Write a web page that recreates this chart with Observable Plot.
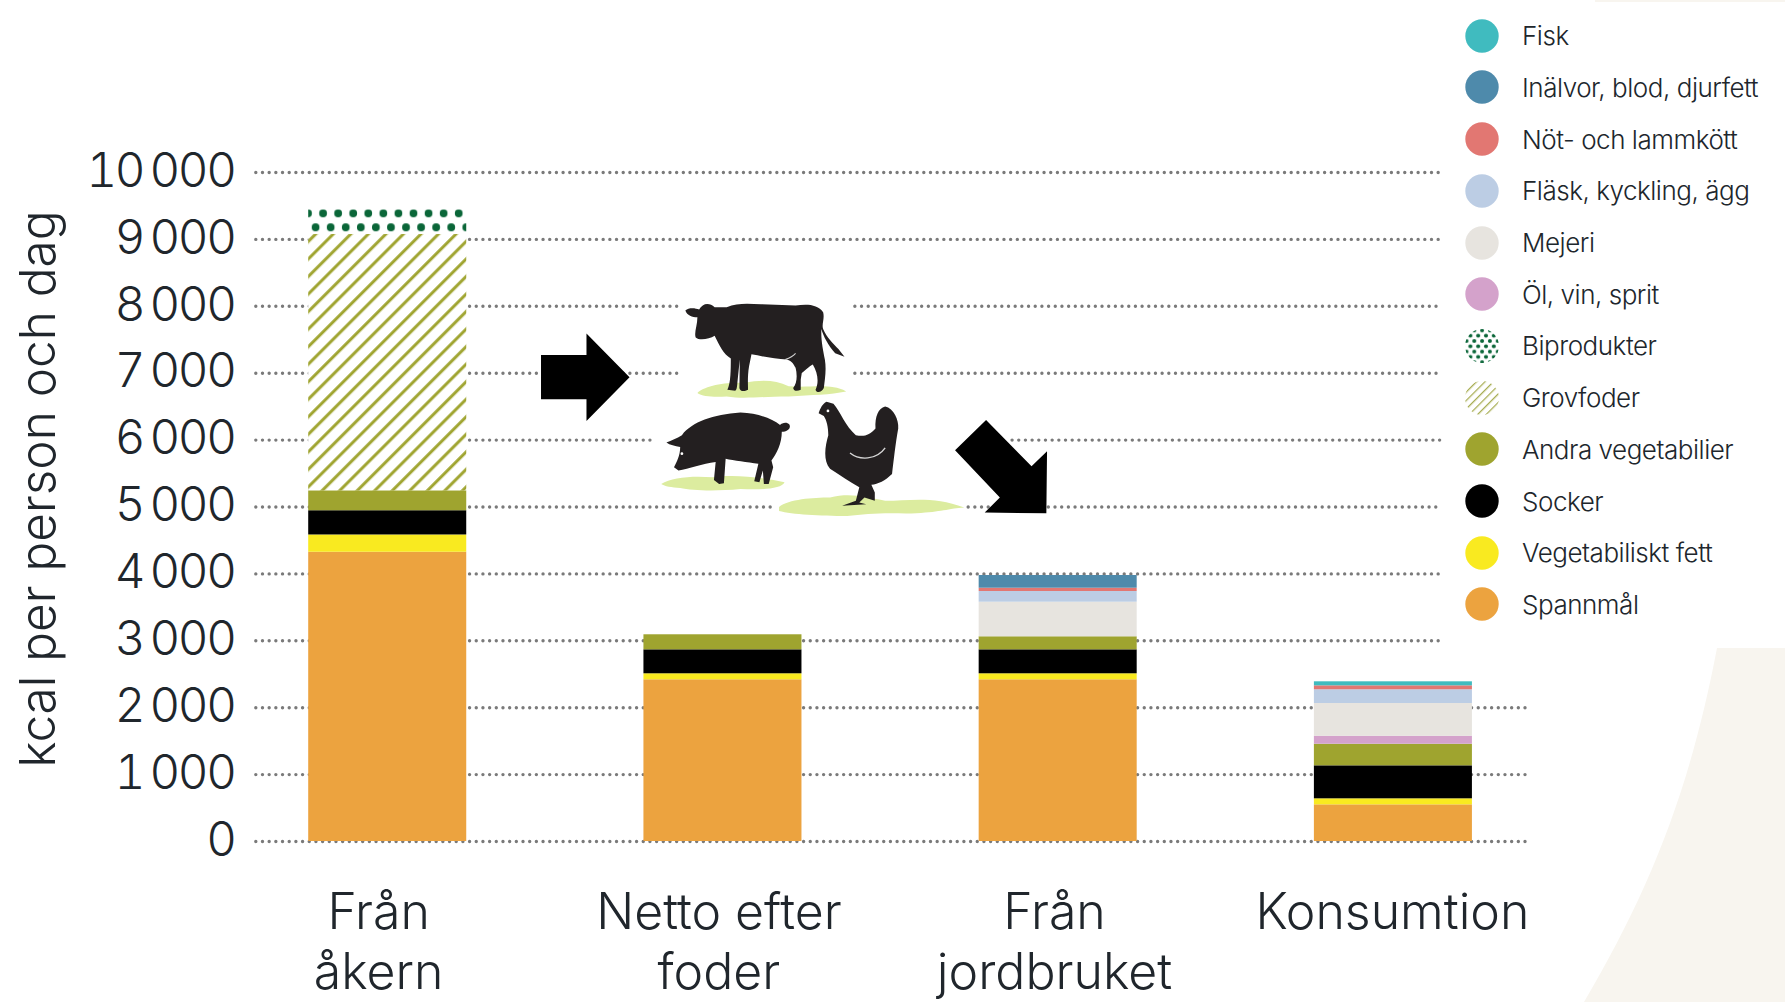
<!DOCTYPE html>
<html lang="sv">
<head>
<meta charset="utf-8">
<style>
  html,body{margin:0;padding:0;background:#fff;}
  #wrap{position:relative;width:1785px;height:1002px;overflow:hidden;font-family:Inter,"Noto Sans",sans-serif;font-weight:300;color:#20262c;}
  #chart svg{display:block;}
  #chart g[aria-label="y-axis tick label"] text{letter-spacing:-.05em;}
  #legend{position:absolute;left:0;top:0;}
  .row{position:absolute;left:1465px;height:34px;display:flex;align-items:center;font-size:26px;letter-spacing:-.018em;white-space:nowrap;}
  .row svg{width:34px;height:34px;margin-right:23px;flex:none;}
</style>
<script src="https://cdn.jsdelivr.net/npm/d3@7"></script>
<script src="https://cdn.jsdelivr.net/npm/@observablehq/plot@0.6"></script>
</head>
<body>
<div id="wrap"><div id="chart"></div><div id="legend"></div></div>
<script>
const stages = ["Från\nåkern", "Netto efter\nfoder", "Från\njordbruket", "Konsumtion"];
const stageLabelShift = [-0.027, -0.012, -0.011, -0.003];

// Bottom to top, kcal per person and day, one value per stage
const spannmal   = [4324, 2417, 2417, 548];
const vegFett    = [ 258,   90,   90,  90];
const socker     = [ 362,  358,  358, 493];
const andraVeg   = [ 298,  225,  195, 323];
const grovfoder  = [3831,    0,    0,   0];
const biprodukt  = [ 369,    0,    0,   0];
const olVinSprit = [   0,    0,    0, 120];
const mejeri     = [   0,    0,  517, 489];
const flask      = [   0,    0,  160, 205];
const notLamm    = [   0,    0,   49,  59];
const inalvor    = [   0,    0,  190,   0];
const fisk       = [   0,    0,    0,  60];

const seriesNames = ["Spannmål","Vegetabiliskt fett","Socker","Andra vegetabilier","Grovfoder","Biprodukter","Öl, vin, sprit","Mejeri","Fläsk, kyckling, ägg","Nöt- och lammkött","Inälvor, blod, djurfett","Fisk"];
const seriesValues = [spannmal,vegFett,socker,andraVeg,grovfoder,biprodukt,olVinSprit,mejeri,flask,notLamm,inalvor,fisk];
const seriesFills = ["#ECA33F","#F9EA20","#000000","#9FA42F","url(#hatch)","url(#dots)","#D4A2CB","#E7E4DF","#BCCDE4","#E27772","#4E8AAB","#40BBBF"];

const legendOrder = ["Fisk","Inälvor, blod, djurfett","Nöt- och lammkött","Fläsk, kyckling, ägg","Mejeri","Öl, vin, sprit","Biprodukter","Grovfoder","Andra vegetabilier","Socker","Vegetabiliskt fett","Spannmål"];

const yTicks = [0,1000,2000,3000,4000,5000,6000,7000,8000,9000,10000];
const barHalf = 0.2357;
const xLeft = -0.3974, xRight = 3.403;
const gridStart = -0.392, gridUpperEnd = 3.142, gridLowerEnd = 3.409;
// Where the illustrations interrupt the dotted lines, in stage units
const gridGaps = new Map([[8000,[0.873,1.395]],[7000,[0.873,1.395]],[6000,[0.796,1.864]],[5000,[1.151,1.733]]]);

const rows = seriesNames.flatMap((name,s) => seriesValues[s].map((v,i) => ({name, i, v, x1:i-barHalf, x2:i+barHalf}))).filter(d => d.v > 0);
const gridRows = yTicks.flatMap(t => {
  const end = t <= 2000 ? gridLowerEnd : gridUpperEnd;
  const g = gridGaps.get(t);
  return g ? [{t,a:gridStart,b:g[0]},{t,a:g[1],b:end}] : [{t,a:gridStart,b:end}];
});
const labelRows = stages.map((s,i) => ({s, x:i+stageLabelShift[i]}));
const fmt = v => d3.format(",")(v).replace(/,/g,"\u2009");

function svgEl(markup){
  const g = document.createElementNS("http://www.w3.org/2000/svg","g");
  g.innerHTML = markup;
  return g;
}
const defsAndBackdrop = () => svgEl(`
  <defs>
    <pattern id="hatch" patternUnits="userSpaceOnUse" width="12.4" height="12.4" patternTransform="translate(308 234) rotate(45)">
      <rect width="12.4" height="12.4" fill="#fff"/><rect x="4" width="3" height="12.4" fill="#9FA42F"/>
    </pattern>
    <pattern id="dots" patternUnits="userSpaceOnUse" x="308" y="213.3" width="15.07" height="28">
      <rect width="15.07" height="28" fill="#fff"/>
      <g fill="#0A6638"><circle r="3.9"/><circle cx="15.07" r="3.9"/><circle cy="28" r="3.9"/><circle cx="15.07" cy="28" r="3.9"/><circle cx="7.6" cy="14" r="3.9"/></g>
    </pattern>
  </defs>
  <path d="M1717 648C1690 790 1650 890 1584 1002L1785 1002L1785 648Z" fill="#F8F5EF"/>
  <rect x="1595" y="0" width="190" height="2" fill="#F8F5EF"/>`);

const illustration = () => svgEl(`<g transform="translate(520 278.6) scale(.34447 .3367)">
  <g fill="#DCEC9F">
    <path d="M515,340C530,320 600,305 650,310C700,300 740,300 780,320C850,325 900,310 947,335C900,345 850,345 780,350C700,350 650,358 600,350C570,352 530,352 515,340Z"/>
    <path d="M410,610C440,590 500,585 560,590C620,580 700,590 768,605C760,625 700,628 640,625C570,632 500,630 465,622C440,620 420,617 410,610Z"/>
    <path d="M752,678C780,655 850,650 900,650C960,635 1010,650 1060,660C1130,660 1200,645 1290,680C1230,685 1220,695 1120,698C1050,695 1000,700 950,705C870,705 790,700 752,690Z"/>
  </g>
  <g fill="#231F20">
    <path d="M480,95C490,85 510,88 520,92C530,72 550,70 565,85L600,85C630,72 660,75 700,76L800,80C830,75 865,75 880,100C885,120 875,135 880,150C890,175 910,195 925,210L942,232L915,222C895,200 880,170 875,150C873,180 880,215 885,240C890,270 885,300 882,325C875,340 860,340 858,330C868,310 865,280 850,255C840,260 825,275 818,280L815,300C815,315 815,325 815,330C805,335 795,335 793,325C805,310 805,285 800,265C795,255 790,245 775,240C740,240 700,230 672,225L665,260C660,290 662,315 662,330C650,337 638,335 637,325L638,240L632,300C630,320 630,330 625,333L602,330C612,310 612,270 612,237C590,225 580,200 565,170C550,180 520,185 510,175C505,160 515,140 515,115C500,115 485,110 480,95Z"/>
    <path d="M425,487C440,480 455,475 470,465C500,425 560,405 640,398C690,400 730,415 755,435C760,428 775,425 782,433C788,445 775,455 760,455C760,490 745,520 730,540L735,560L722,610L708,610L705,570L695,605L680,602L692,550C660,545 620,540 597,535L592,608L578,610L563,598L568,545C530,550 490,565 460,570L447,560C455,545 465,525 465,500C450,497 435,495 425,487Z"/>
    <path d="M867,400C872,385 878,372 890,366L910,372C930,395 945,440 975,465C1000,470 1015,465 1032,445C1030,410 1040,385 1060,380C1085,385 1100,420 1098,445C1090,490 1085,540 1080,580C1060,600 1040,610 1020,612L1030,635L1030,660L1000,650L985,665L1005,670L935,675L975,660L985,620C960,605 930,585 900,565C880,540 885,500 895,465C895,440 890,420 882,408Z"/>
  </g>
  <path d="M958,518C985,540 1035,540 1060,503" fill="none" stroke="#d5d5d5" stroke-width="4"/>
  <path d="M770,240C785,235 795,228 800,222" fill="none" stroke="#d5d5d5" stroke-width="3"/>
  <circle cx="470" cy="520" r="4" fill="#fff"/><circle cx="894" cy="393" r="4" fill="#fff"/>
  <path d="M61,227L193,227L193,163L318,293L193,423L193,358L61,358Z" fill="#000"/>
  <path d="M1263,510L1353,420L1485,557L1530,513L1528,697L1349,695L1393,650Z" fill="#000"/>
</g>`);

const chart = Plot.plot({
  width: 1785, height: 1002,
  marginLeft: 254, marginRight: 257, marginTop: 172, marginBottom: 161,
  style: {fontFamily:"Inter, 'Noto Sans', sans-serif", fontWeight:300, color:"#20262c", background:"transparent", overflow:"visible"},
  x: {domain:[xLeft,xRight], axis:null},
  y: {domain:[0,10000], axis:null},
  color: {domain:seriesNames, range:seriesFills},
  marks: [
    defsAndBackdrop,
    Plot.ruleY(gridRows, {y:"t", x1:"a", x2:"b", stroke:"#7a7a7a", strokeWidth:3.4, strokeDasharray:"0 6.68", strokeLinecap:"round"}),
    Plot.rect(rows, Plot.stackY({x:"i", x1:"x1", x2:"x2", y:"v", z:"name", fill:"name", order:seriesNames})),
    illustration,
    Plot.axisY({ticks:yTicks, tickSize:0, tickPadding:20, tickFormat:fmt, fontSize:47.5, dy:-1, label:null}),
    Plot.text(["kcal per person och dag"], {frameAnchor:"left", textAnchor:"middle", rotate:-90, dx:-215, dy:-18, fontSize:49.5}),
    Plot.text(labelRows, {x:"x", y:()=>0, text:"s", lineAnchor:"top", dy:45.5, fontSize:50, lineHeight:1.19})
  ]
});
document.getElementById("chart").append(chart);

const solid = new Map(seriesNames.map((n,i)=>[n,seriesFills[i]]));
const swatch = n => {
  if (n === "Biprodukter") return `<svg viewBox="0 0 34 34"><defs><pattern id="ld" patternUnits="userSpaceOnUse" x="1.5" y="1.4" width="7.8" height="10.6"><g fill="#0A6638"><circle cx="0" cy="0" r="2"/><circle cx="7.8" cy="0" r="2"/><circle cx="0" cy="10.6" r="2"/><circle cx="7.8" cy="10.6" r="2"/><circle cx="3.9" cy="5.3" r="2"/></g></pattern></defs><circle cx="17" cy="17" r="17" fill="url(#ld)"/></svg>`;
  if (n === "Grovfoder") return `<svg viewBox="0 0 34 34"><defs><pattern id="lh" patternUnits="userSpaceOnUse" width="6" height="6" patternTransform="rotate(45)"><rect x="2" width="1.3" height="6" fill="#A9AE55"/></pattern></defs><circle cx="17" cy="17" r="17" fill="url(#lh)"/></svg>`;
  return `<svg viewBox="0 0 34 34"><circle cx="17" cy="17" r="16.7" fill="${solid.get(n)}"/></svg>`;
};
document.getElementById("legend").innerHTML = legendOrder.map((n,i) =>
  `<div class="row" style="top:${18.7+i*51.7}px">${swatch(n)}<span>${n}</span></div>`).join("");
</script>
</body>
</html>
